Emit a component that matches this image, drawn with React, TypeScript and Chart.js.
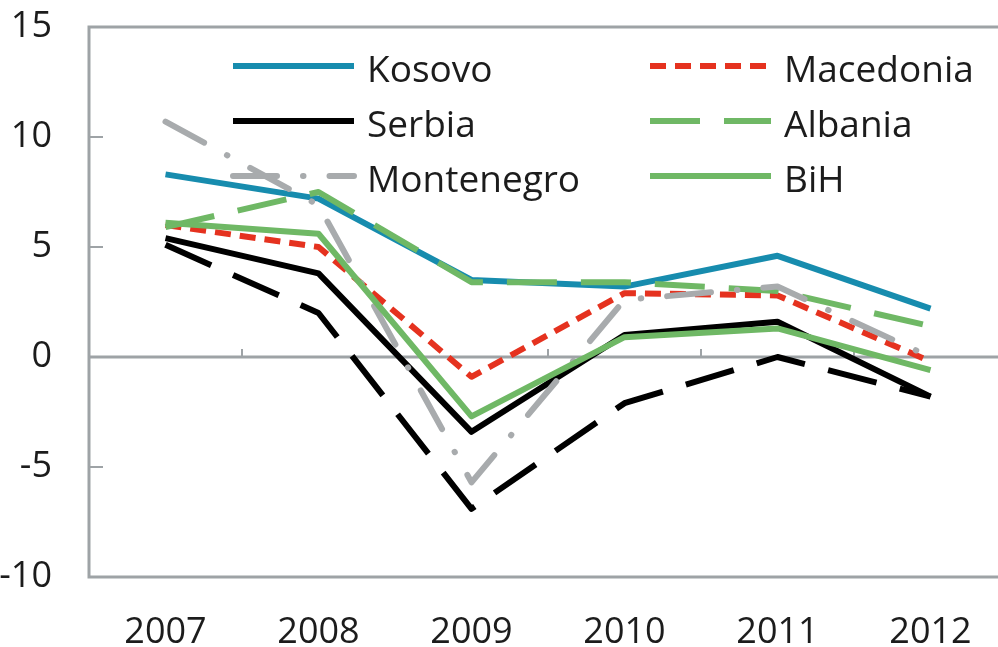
import React, { useEffect, useRef } from "react";
import { Chart, registerables } from "chart.js";

Chart.register(...registerables);

// ---- data ----
const categories = ["2007", "2008", "2009", "2010", "2011", "2012"];
const kosovo = [8.3, 7.2, 3.5, 3.2, 4.6, 2.2];
const macedonia = [6.0, 5.0, -0.9, 2.9, 2.8, -0.2];
const serbia = [5.4, 3.8, -3.4, 1.0, 1.6, -1.8];
const albania = [5.9, 7.5, 3.4, 3.4, 3.0, 1.4];
const montenegro = [10.7, 6.9, -5.7, 2.6, 3.2, 0.0];
const bih = [6.1, 5.6, -2.7, 0.9, 1.3, -0.6];
const croatia = [5.1, 2.0, -6.9, -2.1, 0.0, -1.8];
const legendNames = ["Kosovo", "Macedonia", "Serbia", "Albania", "Montenegro", "BiH"];
const yMin = -10;
const yMax = 15;
const yStep = 5;

// ---- style ----
const FONT = "'Open Sans', 'DejaVu Sans', sans-serif";
const frameColor = "#9ea3a6";
const textColor = "#1c1c1c";
const CANVAS_W = 1060;
const CANVAS_H = 647;
const SHIFT = 30;

const framePlugin = {
  id: "frame",
  beforeDatasetsDraw(chart: any) {
    const { ctx, chartArea: a, scales } = chart;
    const y = scales.y;
    const x = scales.x;
    const y0 = y.getPixelForValue(0);
    ctx.save();
    ctx.strokeStyle = frameColor;
    ctx.lineWidth = 3;
    ctx.beginPath();
    ctx.moveTo(a.right, a.top);
    ctx.lineTo(a.left, a.top);
    ctx.lineTo(a.left, a.bottom);
    ctx.lineTo(a.right, a.bottom);
    ctx.moveTo(a.left, y0);
    ctx.lineTo(a.right, y0);
    ctx.stroke();
    ctx.lineWidth = 2;
    ctx.beginPath();
    y.ticks.forEach((t: any) => {
      if (t.value > y.min && t.value < y.max && t.value !== 0) {
        const p = y.getPixelForValue(t.value);
        ctx.moveTo(a.left, p);
        ctx.lineTo(a.left + 14, p);
      }
    });
    for (let i = 0; i < categories.length - 1; i++) {
      const p = (x.getPixelForTick(i) + x.getPixelForTick(i + 1)) / 2;
      ctx.moveTo(p, y0);
      ctx.lineTo(p, y0 - 8);
    }
    ctx.stroke();
    ctx.restore();
  },
};

const legendPlugin = {
  id: "customLegend",
  afterDatasetsDraw(chart: any) {
    const { ctx, chartArea: a } = chart;
    const colX = [144, 561];
    const lineLen = 121;
    ctx.save();
    ctx.font = `37px ${FONT}`;
    ctx.textAlign = "left";
    ctx.textBaseline = "alphabetic";
    legendNames.forEach((name, i) => {
      const ds = chart.data.datasets.find((d: any) => d.label === name);
      if (!ds) return;
      const col = i % 2;
      const row = Math.floor(i / 2);
      const x0 = a.left + colX[col];
      const ly = a.top + 39 + 55 * row;
      ctx.strokeStyle = ds.borderColor;
      ctx.lineWidth = ds.borderWidth;
      ctx.lineCap = ds.borderCapStyle || "butt";
      ctx.setLineDash(ds.borderDash || []);
      ctx.beginPath();
      ctx.moveTo(x0, ly);
      ctx.lineTo(x0 + lineLen, ly);
      ctx.stroke();
      ctx.setLineDash([]);
      ctx.fillStyle = textColor;
      ctx.fillText(name, x0 + lineLen + 13, ly + 16);
    });
    ctx.restore();
  },
};

export default function App() {
  const ref = useRef<HTMLCanvasElement | null>(null);

  useEffect(() => {
    if (!ref.current) return;
    const mk = (label: string, data: number[], color: string, dash: number[], cap: string, order: number) => ({
      label,
      data,
      borderColor: color,
      backgroundColor: color,
      borderWidth: 6,
      borderDash: dash,
      borderCapStyle: cap,
      borderJoinStyle: "round",
      pointRadius: 0,
      tension: 0,
      fill: false,
      order,
    });
    const chart = new Chart(ref.current, {
      type: "line",
      data: {
        labels: categories,
        datasets: [
          mk("Kosovo", kosovo, "#178cae", [], "butt", 7),
          mk("Macedonia", macedonia, "#e5321f", [16, 9], "butt", 6),
          mk("Serbia", serbia, "#000000", [], "butt", 5),
          mk("Albania", albania, "#6fb865", [50, 24], "butt", 4),
          mk("Montenegro", montenegro, "#a8abad", [44, 26, 0.5, 26], "round", 3),
          mk("BiH", bih, "#6fb865", [], "butt", 2),
          mk("Croatia", croatia, "#000000", [50, 24], "butt", 1),
        ] as any,
      },
      options: {
        responsive: false,
        animation: false,
        layout: { padding: { left: 0, right: 23, top: 27, bottom: 0 } },
        plugins: {
          legend: { display: false },
          tooltip: { enabled: false },
        },
        scales: {
          x: {
            type: "category",
            offset: true,
            grid: { display: false, drawTicks: false },
            border: { display: false },
            ticks: {
              autoSkip: false,
              maxRotation: 0,
              padding: 34,
              color: textColor,
              font: { family: FONT, size: 36 },
            },
            afterFit: (s: any) => {
              s.height = 70;
            },
          },
          y: {
            min: yMin,
            max: yMax,
            grid: {
              display: true,
              drawOnChartArea: false,
              drawTicks: true,
              tickLength: 37,
              tickColor: "rgba(0,0,0,0)",
              color: "rgba(0,0,0,0)",
            },
            border: { display: false },
            ticks: {
              stepSize: yStep,
              padding: 0,
              color: textColor,
              font: { family: FONT, size: 36 },
            },
            afterFit: (s: any) => {
              s.width = 89 + SHIFT;
            },
          },
        },
      },
      plugins: [framePlugin, legendPlugin],
    } as any);
    return () => chart.destroy();
  }, []);

  return (
    <div
      style={{
        position: "fixed",
        left: 0,
        top: 0,
        width: 998,
        height: 647,
        overflow: "hidden",
        background: "#ffffff",
      }}
    >
      <canvas
        ref={ref}
        width={CANVAS_W}
        height={CANVAS_H}
        style={{ position: "absolute", left: -SHIFT, top: 0, width: CANVAS_W, height: CANVAS_H }}
      />
    </div>
  );
}
